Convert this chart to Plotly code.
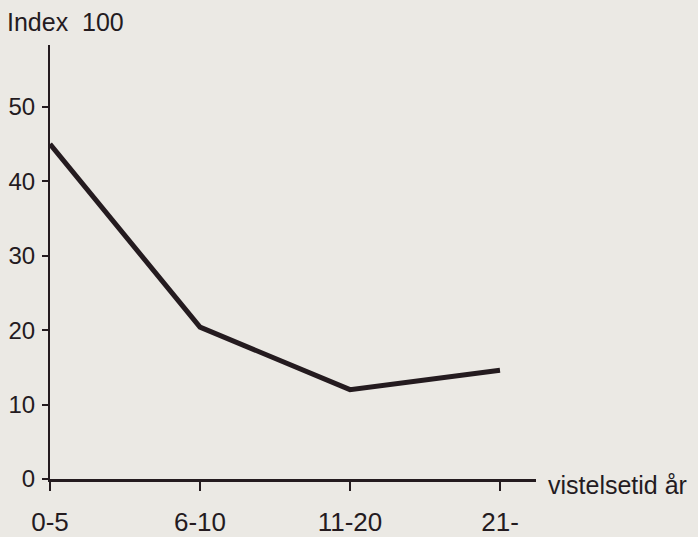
import plotly.graph_objects as go

categories = ["0-5", "6-10", "11-20", "21-"]
index_values = [45.0, 20.4, 12.0, 14.6]
y_ticks = [0, 10, 20, 30, 40, 50]

ink = "#241b1f"
paper = "#ebe9e4"
font_family = "Liberation Sans, Arial, Helvetica, sans-serif"

fig = go.Figure()
fig.add_trace(go.Scatter(
    x=categories, y=index_values, mode="lines",
    line=dict(color=ink, width=5),
    showlegend=False, hoverinfo="skip",
))

fig.update_layout(
    width=698, height=537,
    margin=dict(l=50, r=162, t=45, b=58, autoexpand=False),
    paper_bgcolor=paper, plot_bgcolor=paper,
    font=dict(family=font_family, color=ink),
    xaxis=dict(
        type="category", range=[0, 3.24], automargin=False,
        showgrid=False, zeroline=False,
        showline=True, linecolor=ink, linewidth=3,
        ticks="outside", ticklen=9, tickwidth=2, tickcolor=ink,
        tickfont=dict(size=26, color=ink),
        ticklabelstandoff=9,
    ),
    yaxis=dict(
        range=[0, 58.3], tickvals=y_ticks, automargin=False,
        showgrid=False, zeroline=False,
        showline=True, linecolor=ink, linewidth=2,
        ticks="outside", ticklen=6, tickwidth=2, tickcolor=ink,
        tickfont=dict(size=24, color=ink),
        ticklabelstandoff=2,
    ),
    annotations=[
        dict(text="Index  100", xref="paper", yref="paper", x=0, y=1,
             xanchor="left", yanchor="middle", xshift=-45, yshift=23,
             showarrow=False, font=dict(size=25, color=ink)),
        dict(text="vistelsetid år", xref="paper", yref="y", x=1, y=0,
             xanchor="left", yanchor="middle", xshift=10, yshift=-6,
             showarrow=False, font=dict(size=25, color=ink)),
    ],
)

fig.write_html(
    "out.html",
    config={"displayModeBar": False},
    post_script="document.body.style.margin='0';document.body.style.background='%s';" % paper,
)
